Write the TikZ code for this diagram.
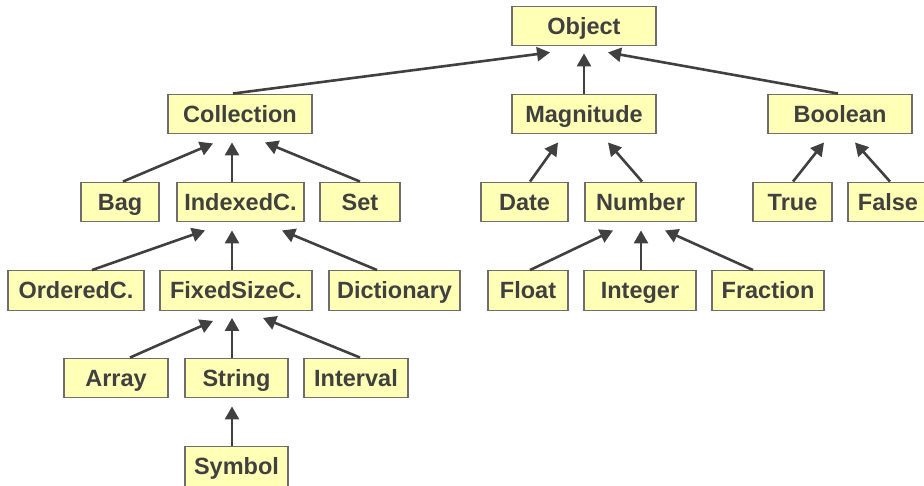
\documentclass[tikz,border=0pt]{standalone}
\usepackage{fontspec}
\setmainfont{Liberation Sans}
\usetikzlibrary{arrows.meta,calc}
\definecolor{boxfill}{RGB}{255,255,181}
\definecolor{boxline}{RGB}{110,110,110}
\definecolor{ink}{RGB}{64,64,64}
\tikzset{
  cls/.style={draw=boxline, fill=boxfill, line width=1.4pt, minimum height=39.5pt,
    inner sep=0pt, text height=16.8pt, text depth=0pt, text=ink,
    font=\fontsize{23.5}{28}\selectfont\bfseries},
  arr/.style={draw=ink, line width=2.6pt, -{Triangle[length=13pt,width=14pt]}},
}
\begin{document}
\begin{tikzpicture}[x=1pt,y=-1pt]
\useasboundingbox (0,0) rectangle (924,486);
\clip (0,0) rectangle (924,486);
% level 0
\node[cls, minimum width=144pt] (obj) at (584,26) {Object};
% level 1
\node[cls, minimum width=144pt] (coll) at (240,114) {Collection};
\node[cls, minimum width=144pt] (mag) at (584,114) {Magnitude};
\node[cls, minimum width=144pt] (bool) at (840,114) {Boolean};
% level 2
\node[cls, minimum width=78pt] (bag) at (120,202) {Bag};
\node[cls, minimum width=127pt] (idx) at (240.5,202) {IndexedC.};
\node[cls, minimum width=80pt] (set) at (360,202) {Set};
\node[cls, minimum width=87pt] (date) at (524.5,202) {Date};
\node[cls, minimum width=111pt] (num) at (640.5,202) {Number};
\node[cls, minimum width=79pt] (true) at (792.5,202) {True};
\node[cls, minimum width=80pt] (false) at (888,202) {False};
% level 3
\node[cls, minimum width=136pt] (ord) at (76,290.5) {OrderedC.};
\node[cls, minimum width=152pt] (fix) at (236,290.5) {FixedSizeC.};
\node[cls, minimum width=131pt] (dict) at (394.5,290.5) {Dictionary};
\node[cls, minimum width=80pt] (float) at (528,290.5) {Float};
\node[cls, minimum width=112pt] (int) at (640,290.5) {Integer};
\node[cls, minimum width=112pt] (frac) at (768,290.5) {Fraction};
% level 4
\node[cls, minimum width=104pt] (array) at (116,378) {Array};
\node[cls, minimum width=103pt] (string) at (236.5,378) {String};
\node[cls, minimum width=104pt] (interval) at (356,378) {Interval};
% level 5
\node[cls, minimum width=103pt] (symbol) at (236.5,466.5) {Symbol};
% connectors
\draw[arr] ($(coll.north)+(-7,0)$) -- ($(obj.south)+(-34,6)$);
\draw[arr] ($(mag.north)+(0,0)$) -- ($(obj.south)+(0,7)$);
\draw[arr] ($(bool.north)+(-2,0)$) -- ($(obj.south)+(24,6)$);
\draw[arr] ($(bag.north)+(3,0)$) -- ($(coll.south)+(-27,9)$);
\draw[arr] ($(idx.north)+(-8.5,0)$) -- ($(coll.south)+(-8,8)$);
\draw[arr] ($(set.north)+(0,0)$) -- ($(coll.south)+(25,8)$);
\draw[arr] ($(date.north)+(5.5,0)$) -- ($(mag.south)+(-26,8)$);
\draw[arr] ($(num.north)+(1.5,0)$) -- ($(mag.south)+(24,8)$);
\draw[arr] ($(true.north)+(0.5,0)$) -- ($(bool.south)+(-16,8)$);
\draw[arr] ($(false.north)+(2,0)$) -- ($(bool.south)+(15,8)$);
\draw[arr] ($(ord.north)+(16,0)$) -- ($(idx.south)+(-35.5,8)$);
\draw[arr] ($(fix.north)+(-4,0)$) -- ($(idx.south)+(-8.5,8)$);
\draw[arr] ($(dict.north)+(-17.5,0)$) -- ($(idx.south)+(41.5,8)$);
\draw[arr] ($(array.north)+(14,0)$) -- ($(fix.south)+(-23,10)$);
\draw[arr] ($(string.north)+(-4.5,0)$) -- ($(fix.south)+(-4,7)$);
\draw[arr] ($(interval.north)+(4,0)$) -- ($(fix.south)+(27,7)$);
\draw[arr] ($(symbol.north)+(-4.5,0)$) -- ($(string.south)+(-4.5,8)$);
\draw[arr] ($(float.north)+(2,0)$) -- ($(num.south)+(-27.5,8)$);
\draw[arr] ($(int.north)+(1,0)$) -- ($(num.south)+(0.5,8)$);
\draw[arr] ($(frac.north)+(-15,0)$) -- ($(num.south)+(24.5,8)$);
\end{tikzpicture}
\end{document}
